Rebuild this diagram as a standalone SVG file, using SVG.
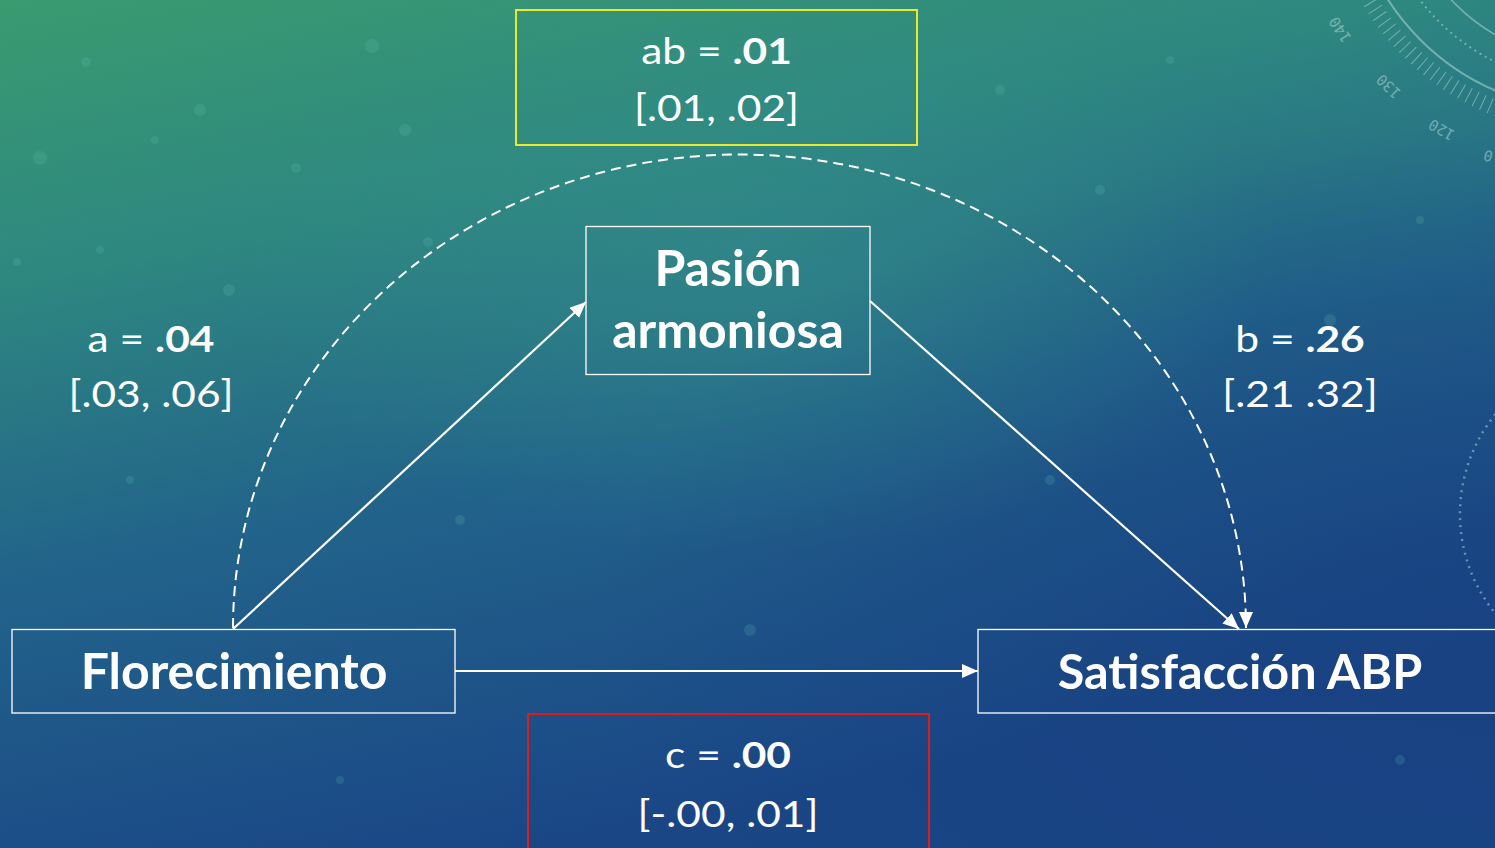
<svg xmlns="http://www.w3.org/2000/svg" width="1495" height="848" viewBox="0 0 1495 848">
  <defs>
    <linearGradient id="bg" x1="0" y1="0" x2="0.35" y2="1">
      <stop offset="0" stop-color="#3a9b70"/>
      <stop offset="0.3" stop-color="#2e8780"/>
      <stop offset="0.6" stop-color="#22648a"/>
      <stop offset="1" stop-color="#1a4686"/>
    </linearGradient>
    <radialGradient id="blueR" cx="1" cy="0.75" r="0.6">
      <stop offset="0" stop-color="#173f80" stop-opacity="0.7"/>
      <stop offset="1" stop-color="#173f80" stop-opacity="0"/>
    </radialGradient>
    <radialGradient id="tealC" cx="0.5" cy="0.3" r="0.35">
      <stop offset="0" stop-color="#35908a" stop-opacity="0.5"/>
      <stop offset="1" stop-color="#35908a" stop-opacity="0"/>
    </radialGradient>
    <marker id="ah" markerUnits="userSpaceOnUse" markerWidth="17" markerHeight="14" refX="16" refY="7" orient="auto">
      <path d="M0,0 L16,7 L0,14 z" fill="#ffffff"/>
    </marker>
  </defs>
  <style>
    .t { font-family: Lato, "Open Sans", "Liberation Sans", sans-serif; fill: #ffffff; text-anchor: middle; }
    .node { font-size: 50px; font-weight: bold; }
    .val { font-size: 36px; font-weight: normal; }
    .b { font-weight: bold; }
    .box { fill: none; stroke: #ffffff; stroke-width: 1.3; }
    .line { stroke: #ffffff; stroke-width: 2.2; fill: none; }
    .dash { stroke: #ffffff; stroke-width: 2; fill: none; stroke-dasharray: 10 6; }
    .deco { stroke: #cfe8e6; fill: none; opacity: 0.45; }
    .num { font-family: "DejaVu Sans Mono", monospace; font-size: 15px; fill: #cfe8e6; opacity: 0.45; }
    .dot { fill: #6cc8b8; opacity: 0.18; }
  </style>

  <!-- background -->
  <rect width="1495" height="848" fill="url(#bg)"/>
  <rect width="1495" height="848" fill="url(#blueR)"/>
  <rect width="1495" height="848" fill="url(#tealC)"/>
  <g id="bokeh">
    <circle class="dot" cx="86" cy="62" r="5"/>
    <circle class="dot" cx="40" cy="158" r="7"/>
    <circle class="dot" cx="200" cy="110" r="6"/>
    <circle class="dot" cx="155" cy="140" r="4"/>
    <circle class="dot" cx="372" cy="46" r="7"/>
    <circle class="dot" cx="405" cy="130" r="6"/>
    <circle class="dot" cx="296" cy="168" r="5"/>
    <circle class="dot" cx="229" cy="290" r="6"/>
    <circle class="dot" cx="17" cy="262" r="4"/>
    <circle class="dot" cx="100" cy="250" r="4"/>
    <circle class="dot" cx="428" cy="242" r="5"/>
    <circle class="dot" cx="1000" cy="90" r="5"/>
    <circle class="dot" cx="1170" cy="60" r="4"/>
    <circle class="dot" cx="1100" cy="190" r="5"/>
    <circle class="dot" cx="1330" cy="320" r="6"/>
    <circle class="dot" cx="1420" cy="220" r="4"/>
    <circle class="dot" cx="460" cy="520" r="5"/>
    <circle class="dot" cx="750" cy="630" r="6"/>
    <circle class="dot" cx="130" cy="480" r="4"/>
    <circle class="dot" cx="1050" cy="480" r="5"/>
    <circle class="dot" cx="1400" cy="760" r="5"/>
    <circle class="dot" cx="340" cy="780" r="4"/>
  </g>

  <!-- decorative gauge (top right) -->
  <g id="gauge">
    <circle class="deco" cx="1590" cy="-130" r="240" stroke-width="2"/>
    <circle class="deco" cx="1590" cy="-130" r="190" stroke-width="1.5"/>
    <circle class="deco" cx="1590" cy="-130" r="214" stroke-width="2" stroke-dasharray="2 4"/>
    <circle class="deco" cx="1590" cy="-130" r="256" stroke-width="16" stroke-dasharray="1 7" opacity="0.3"/>
    <text class="num" transform="translate(1352,38) rotate(236)">140</text>
    <text class="num" transform="translate(1402,92) rotate(224)">130</text>
    <text class="num" transform="translate(1456,132) rotate(210)">120</text>
    <text class="num" transform="translate(1494,152) rotate(196)">0</text>
    <circle class="deco" cx="1618" cy="514" r="158" stroke-width="2.5" stroke-dasharray="2 5" opacity="0.25"/>
  </g>

  <!-- connectors -->
  <g id="connectors">
    <path class="dash" d="M233,628 A506,473 0 0 1 1246,628" marker-end="url(#ah)"/>
    <line class="line" x1="233" y1="629" x2="586" y2="302" marker-end="url(#ah)"/>
    <line class="line" x1="870" y1="301" x2="1239" y2="629" marker-end="url(#ah)"/>
    <line class="line" x1="455" y1="671" x2="978" y2="671" marker-end="url(#ah)"/>
  </g>

  <!-- nodes -->
  <g id="node-florecimiento">
    <rect class="box" x="12" y="629.5" width="443" height="83.5"/>
    <text class="t node" x="234" y="689">Florecimiento</text>
  </g>
  <g id="node-pasion">
    <rect class="box" x="586" y="226.5" width="284" height="148"/>
    <text class="t node" x="728" y="286">Pasión</text>
    <text class="t node" x="728" y="348">armoniosa</text>
  </g>
  <g id="node-satisfaccion">
    <rect class="box" x="978" y="629.5" width="530" height="83.5"/>
    <text class="t node" x="1240" y="689" style="font-size:48.5px">Satisfacción ABP</text>
  </g>

  <!-- labels -->
  <g id="label-ab">
    <rect x="516" y="10" width="401" height="135" fill="none" stroke="#eaea2a" stroke-width="2"/>
    <text class="t val" transform="translate(716.5,64) scale(1.18,1)">ab = <tspan class="b">.01</tspan></text>
    <text class="t val" transform="translate(716.5,121) scale(1.18,1)">[.01, .02]</text>
  </g>
  <g id="label-a">
    <text class="t val" transform="translate(151,352) scale(1.18,1)">a = <tspan class="b">.04</tspan></text>
    <text class="t val" transform="translate(151,407) scale(1.18,1)">[.03, .06]</text>
  </g>
  <g id="label-b">
    <text class="t val" transform="translate(1300,352) scale(1.18,1)">b = <tspan class="b">.26</tspan></text>
    <text class="t val" transform="translate(1300,407) scale(1.18,1)">[.21 .32]</text>
  </g>
  <g id="label-c">
    <rect x="528" y="714" width="401" height="150" fill="none" stroke="#e01b1b" stroke-width="2"/>
    <text class="t val" transform="translate(728,768) scale(1.18,1)">c = <tspan class="b">.00</tspan></text>
    <text class="t val" transform="translate(728,827) scale(1.18,1)">[-.00, .01]</text>
  </g>
</svg>
